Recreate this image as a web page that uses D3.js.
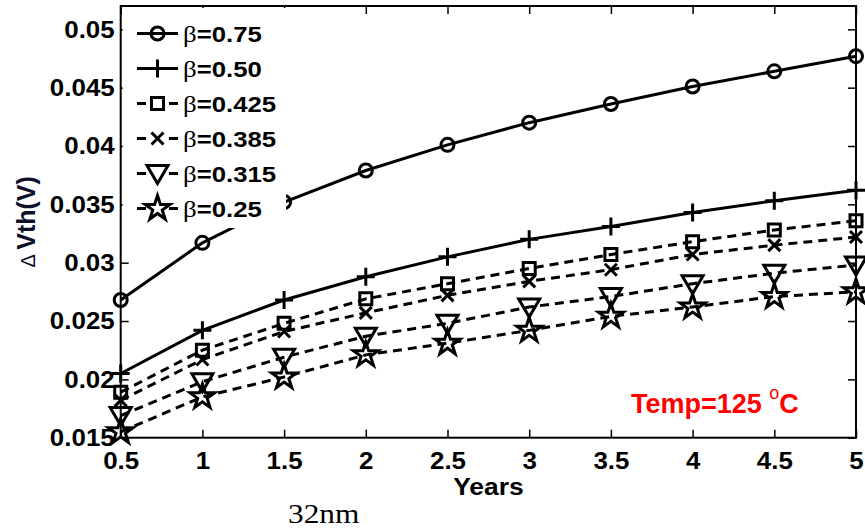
<!DOCTYPE html>
<html>
<head>
<meta charset="utf-8">
<script src="https://cdn.jsdelivr.net/npm/d3@7"></script>
<style>
  html, body { margin: 0; padding: 0; background: #fff; }
  svg { display: block; }
  text { font-family: "Liberation Sans", Arial, sans-serif; }
</style>
</head>
<body>
<svg id="chart" width="865" height="529"></svg>
<script>
// ---------------- data ----------------
const years = [0.5, 1, 1.5, 2, 2.5, 3, 3.5, 4, 4.5, 5];
const beta075  = [0.0268, 0.0317, 0.0352, 0.0379, 0.0401, 0.0420, 0.0436, 0.0451, 0.0464, 0.0477];
const beta050  = [0.0205, 0.0242, 0.0268, 0.0288, 0.0305, 0.0320, 0.0331, 0.0343, 0.0353, 0.0362];
const beta0425 = [0.0189, 0.0225, 0.0248, 0.0269, 0.0282, 0.0295, 0.0307, 0.0318, 0.0328, 0.0336];
const beta0385 = [0.0182, 0.0217, 0.0241, 0.0257, 0.0272, 0.0284, 0.0294, 0.0307, 0.0315, 0.0322];
const beta0315 = [0.0169, 0.0198, 0.0219, 0.0237, 0.0248, 0.0262, 0.0271, 0.0282, 0.0291, 0.0298];
const beta025  = [0.0155, 0.0185, 0.0202, 0.0221, 0.0231, 0.0242, 0.0254, 0.0262, 0.0271, 0.0275];
const betaLabels = ["0.75", "0.50", "0.425", "0.385", "0.315", "0.25"];
const xTickValues = [0.5, 1, 1.5, 2, 2.5, 3, 3.5, 4, 4.5, 5];
const xTickLabels = ["0.5", "1", "1.5", "2", "2.5", "3", "3.5", "4", "4.5", "5"];
const yTickValues = [0.015, 0.02, 0.025, 0.03, 0.035, 0.04, 0.045, 0.05];
const yTickLabels = ["0.015", "0.02", "0.025", "0.03", "0.035", "0.04", "0.045", "0.05"];
const xTitle = "Years";
const yTitleSymbol = "\u0394";
const yTitle = "Vth(V)";
const annotation = "Temp=125";
const footnote = "32nm";

const seriesValues = [beta075, beta050, beta0425, beta0385, beta0315, beta025];

// ---------------- styles ----------------
const markerKinds = ["circle", "plus", "square", "x", "triangle", "star"];
const dashed = [false, false, true, true, true, true];

// ---------------- layout ----------------
const svg = d3.select("#chart");
const L = 120.7, R = 856, T = 6, B = 437.7;
const x = d3.scaleLinear().domain([0.5, 5]).range([L, R]);
const y = d3.scaleLinear().domain([0.015, 0.052]).range([B, T]);

function starPath(Ro) {
  const ri = Ro * 0.382;
  const pts = [];
  for (let i = 0; i < 10; i++) {
    const a = -Math.PI / 2 + i * Math.PI / 5;
    const rr = i % 2 === 0 ? Ro : ri;
    pts.push([rr * Math.cos(a), rr * Math.sin(a)]);
  }
  return "M" + pts.map(p => p[0].toFixed(2) + "," + p[1].toFixed(2)).join("L") + "Z";
}
const markerPaths = {
  circle: "M6.5,0A6.5,6.5 0 1,1 -6.5,0A6.5,6.5 0 1,1 6.5,0Z",
  plus: "M-9,0H9M0,-9V9",
  square: "M-6,-6H6V6H-6Z",
  x: "M-6,-6L6,6M-6,6L6,-6",
  triangle: "M-10.5,-8H10.5L0,10Z",
  star: starPath(13)
};

// horizontally stretch a text element about its anchor point
function stretch(sel, s) {
  sel.each(function () {
    const t = d3.select(this);
    const tx = +t.attr("x") || 0, ty = +t.attr("y") || 0;
    t.attr("x", 0).attr("y", 0)
      .attr("transform", `translate(${tx},${ty}) scale(${s},1)`);
  });
}

// ---------------- axes ----------------
const gx = svg.append("g").attr("transform", `translate(0,${B})`)
  .call(d3.axisBottom(x).tickValues(xTickValues)
    .tickFormat((d, i) => xTickLabels[i]).tickSize(-8).tickPadding(14));
const gxt = svg.append("g").attr("transform", `translate(0,${T})`)
  .call(d3.axisTop(x).tickValues(xTickValues).tickFormat("").tickSize(-8));
const gy = svg.append("g").attr("transform", `translate(${L},0)`)
  .call(d3.axisLeft(y).tickValues(yTickValues)
    .tickFormat((d, i) => yTickLabels[i]).tickSize(-8).tickPadding(6));
const gyr = svg.append("g").attr("transform", `translate(${R},0)`)
  .call(d3.axisRight(y).tickValues(yTickValues).tickFormat("").tickSize(-8));

[gx, gxt, gy, gyr].forEach(g => {
  g.select(".domain").remove();
  g.selectAll(".tick line").attr("stroke", "#000").attr("stroke-width", 1.5);
  g.selectAll(".tick text")
    .attr("fill", "#000")
    .style("font-size", "24px")
    .style("font-weight", "bold");
});
stretch(gx.selectAll(".tick text"), 1.08);
stretch(gy.selectAll(".tick text"), 1.08);

// ---------------- series ----------------
const line = d3.line().x(d => x(d[0])).y(d => y(d[1]));
const plot = svg.append("g");
seriesValues.forEach((vals, si) => {
  const pts = years.map((yr, i) => [yr, vals[i]]);
  plot.append("path")
    .attr("d", line(pts))
    .attr("fill", "none")
    .attr("stroke", "#000")
    .attr("stroke-width", 3)
    .attr("stroke-dasharray", dashed[si] ? "9,6" : null);
  plot.selectAll(null).data(pts).enter().append("path")
    .attr("transform", d => `translate(${x(d[0])},${y(d[1])})`)
    .attr("d", markerPaths[markerKinds[si]])
    .attr("fill", "none")
    .attr("stroke", "#000")
    .attr("stroke-width", 3)
    .attr("stroke-linejoin", "miter");
});

// frame
svg.append("rect")
  .attr("x", L).attr("y", T).attr("width", R - L).attr("height", B - T)
  .attr("fill", "none").attr("stroke", "#000").attr("stroke-width", 2);

// ---------------- legend ----------------
const legend = svg.append("g");
legend.append("rect")
  .attr("x", L + 2).attr("y", T + 2).attr("width", 286 - L - 2).attr("height", 228 - T - 2)
  .attr("fill", "#fff");
const legY0 = 33.5, legDy = 35;
betaLabels.forEach((lab, si) => {
  const cy = legY0 + si * legDy;
  legend.append("line")
    .attr("x1", 137).attr("x2", 178).attr("y1", cy).attr("y2", cy)
    .attr("stroke", "#000").attr("stroke-width", 3)
    .attr("stroke-dasharray", dashed[si] ? "9,23" : null);
  legend.append("path")
    .attr("transform", `translate(157.5,${cy})`)
    .attr("d", markerPaths[markerKinds[si]])
    .attr("fill", "none").attr("stroke", "#000").attr("stroke-width", 3);
  const t = legend.append("text")
    .attr("x", 183).attr("y", cy + 8)
    .style("font-size", "23px");
  t.append("tspan").text("\u03B2")
    .style("font-family", "'Liberation Serif', 'Times New Roman', serif")
    .style("font-size", "24px");
  t.append("tspan").text("=" + lab).style("font-weight", "bold");
  stretch(t, 1.12);
});

// ---------------- titles ----------------
const xt = svg.append("text")
  .attr("x", (L + R) / 2).attr("y", 495)
  .attr("text-anchor", "middle")
  .style("font-size", "24px").style("font-weight", "bold")
  .text(xTitle);
stretch(xt, 1.1);

const yt = svg.append("text")
  .attr("transform", `translate(35,${(T + B) / 2}) rotate(-90)`)
  .attr("text-anchor", "middle")
  .attr("fill", "#10102a")
  .style("font-size", "25px");
yt.append("tspan").text(yTitleSymbol + " ").style("font-size", "20px");
yt.append("tspan").text(yTitle).style("font-weight", "bold");

const ann = svg.append("text")
  .attr("x", 631).attr("y", 412.5)
  .attr("fill", "#ff0000")
  .style("font-size", "27px")
  .style("font-weight", "bold");
ann.append("tspan").text(annotation + " ");
ann.append("tspan").text("o").attr("dy", -14).style("font-size", "18px").style("font-weight", "normal");
ann.append("tspan").text("C").attr("dy", 14);

const fn = svg.append("text")
  .attr("x", 288).attr("y", 523)
  .style("font-family", "'Liberation Serif', 'Times New Roman', serif")
  .style("font-size", "28px")
  .text(footnote);
stretch(fn, 1.12);
</script>
</body>
</html>
